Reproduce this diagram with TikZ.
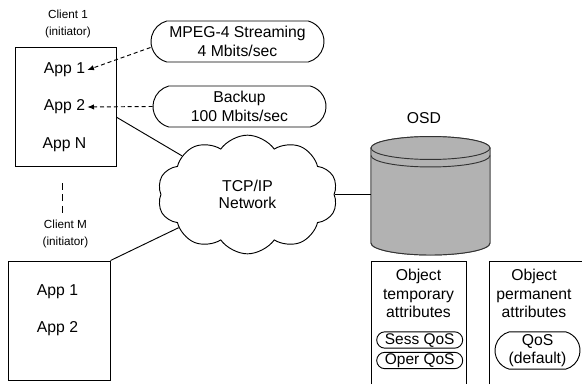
\documentclass[tikz,border=0pt]{standalone}
\usepackage{fontspec}
\setmainfont{Liberation Sans}
\usetikzlibrary{shapes.misc,shapes.symbols,arrows.meta}
\tikzset{
  txt/.style={font=\fontsize{11.8}{14.2}\selectfont, align=center, inner sep=0pt},
  smalltxt/.style={font=\fontsize{8.8}{12.6}\selectfont, align=center, inner sep=0pt},
  line/.style={line width=0.7pt, draw=black},
  clientbox/.style={line, rectangle, inner sep=0pt},
  bubble/.style={line, rounded rectangle, rounded rectangle arc length=150, inner sep=0pt,
    font=\fontsize{11.8}{14.2}\selectfont, align=center},
  qosbubble/.style={line, rounded rectangle, rounded rectangle arc length=180, inner xsep=0pt, inner ysep=0.7pt,
    font=\fontsize{11.6}{13.6}\selectfont, text height=8.6pt, text depth=2pt,
    minimum width=64.5pt, minimum height=12.3pt},
  flow/.style={line, dash pattern=on 3pt off 2.2pt, -{Latex[length=5pt,width=4pt]}},
  cylfill/.style={fill=black!30, draw=black!80, line width=0.7pt}
}
\begin{document}
\begin{tikzpicture}[x=0.75pt,y=-0.75pt]
\useasboundingbox (0,0) rectangle (582,385);

% Client 1
\node[smalltxt] (c1lab) at (68,24) {Client 1\\(initiator)};
\node[clientbox, minimum width=75.75pt, minimum height=89.25pt] (c1) at (65.5,106.5) {};
\node[txt] (c1a1) at (64.5,70) {App 1};
\node[txt] (c1a2) at (64.5,107) {App 2};
\node[txt] (c1aN) at (64.5,145) {App N};

% separator
\coordinate (sepA) at (62,183);
\coordinate (sepB) at (62,215);
\draw[line, dash pattern=on 5pt off 3.6pt] (sepA) -- (sepB);

% Client M
\node[smalltxt] (cMlab) at (65.5,234) {Client M\\(initiator)};
\node[clientbox, minimum width=76.5pt, minimum height=89.25pt] (cM) at (59,320.5) {};
\node[txt] (cMa1) at (57.5,292) {App 1};
\node[txt] (cMa2) at (57.5,329) {App 2};

% flows
\node[bubble, minimum width=129.75pt, minimum height=30.75pt] (mpeg) at (237.5,41.5) {MPEG-4 Streaming\\4 Mbits/sec};
\node[bubble, minimum width=129.75pt, minimum height=30.75pt] (backup) at (239.5,106.5) {Backup\\100 Mbits/sec};
\draw[flow] ([yshift=-4.5pt]mpeg.west) -- ([xshift=1.5pt]c1a1.east);
\draw[flow] (backup.west) -- ([xshift=1.5pt]c1a2.east);

% network cloud
\node[line, cloud, cloud puffs=10, cloud puff arc=110, minimum width=135pt, minimum height=89pt,
  txt, font=\fontsize{11.8}{12.8}\selectfont] (net) at (247.5,194.5) {TCP/IP\\Network};
\draw[line] ([yshift=-8pt]c1.east) -- (net);
\draw[line] (cM.north east) -- (net);

% OSD
\node[txt] (osdlab) at (424,118) {OSD};
\node[minimum width=89.25pt, minimum height=88.5pt, inner sep=0pt] (osd) at (430.5,196) {};
\fill[cylfill] (371,148) -- (371,243) arc[start angle=180, end angle=360, x radius=44.625pt, y radius=9pt]
  -- (490,148) arc[start angle=0, end angle=180, x radius=44.625pt, y radius=8.6pt] -- cycle;
\draw[cylfill] (371,148) -- (371,243) arc[start angle=180, end angle=360, x radius=44.625pt, y radius=9pt]
  -- (490,148);
\draw[cylfill] (430.5,148) ellipse[x radius=44.625pt, y radius=8.6pt];
\draw[line, draw=black!80] (371,155.5) arc[start angle=180, end angle=360, x radius=44.625pt, y radius=8.6pt];
\draw[line] (net.east) -- (net.east -| osd.west);

% attribute boxes
\draw[line] (371,384) -- (371,261) -- (466,261) -- (466,384);
\node[txt, font=\fontsize{11.8}{13.9}\selectfont] (tmp) at (418.5,293.5) {Object\\temporary\\attributes};
\node[qosbubble] (sess) at (419.7,340) {Sess QoS};
\node[qosbubble] (oper) at (419.7,360.5) {Oper QoS};

\draw[line] (489,384) -- (489,261) -- (582,261);
\node[txt, font=\fontsize{11.8}{13.9}\selectfont] (perm) at (534,293.5) {Object\\permanent\\attributes};
\node[bubble, font=\fontsize{11.8}{13.4}\selectfont, minimum width=63.75pt, minimum height=28pt] (qos) at (537.5,350.5) {QoS\\(default)};
\end{tikzpicture}
\end{document}
